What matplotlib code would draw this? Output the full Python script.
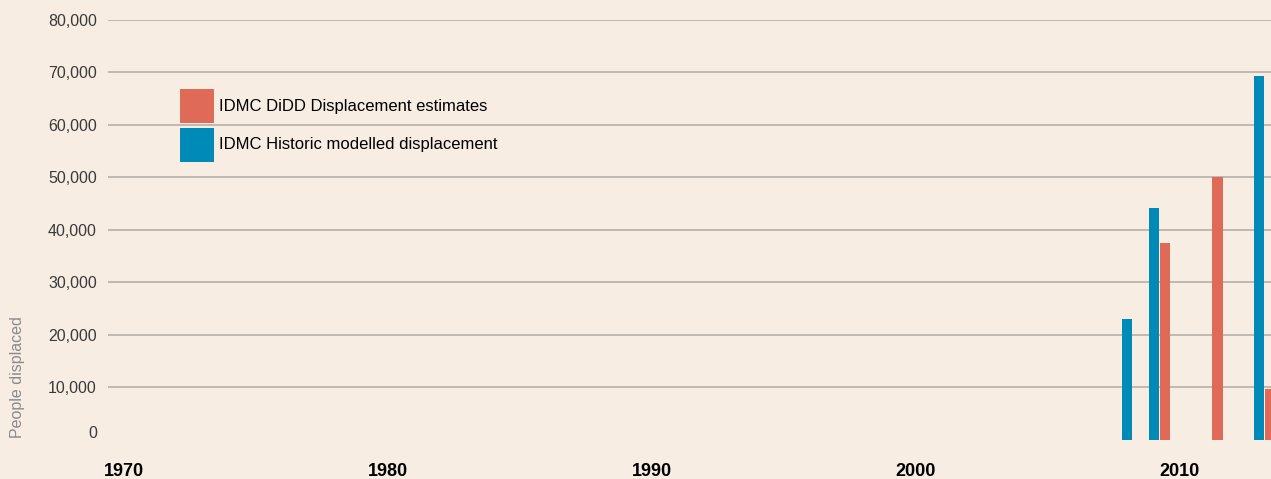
import matplotlib.pyplot as plt
import matplotlib.transforms as mtransforms
from matplotlib.patches import Rectangle

# values
years_historic = [2008, 2009, 2013]
historic = [23000, 44100, 69300]
years_didd = [2009, 2011, 2013]
didd = [37500, 50000, 9600]

yticks = [0, 10000, 20000, 30000, 40000, 50000, 60000, 70000, 80000]
xticks = [1970, 1980, 1990, 2000, 2010]
legend_labels = ['IDMC DiDD Displacement estimates', 'IDMC Historic modelled displacement']

BG = '#F7EDE2'
RED = '#E06A58'
BLUE = '#008AB8'
GRID = '#B5B0AA'
FONT = ['Liberation Sans', 'DejaVu Sans']
W, H = 1271, 479


def main():
    plt.rcParams['font.family'] = FONT
    fig = plt.figure(figsize=(W / 100, H / 100), dpi=100, facecolor=BG)
    ax = fig.add_axes([108 / W, 39.5 / H, 1 - 108 / W, 419.5 / H])
    ax.set_facecolor(BG)

    width = 0.38
    ax.bar(years_historic, historic, width=width, color=BLUE, zorder=3)
    ax.bar([y + 0.42 for y in years_didd], didd, width=width, color=RED, zorder=3)

    # gridlines, none at zero
    for v in yticks[1:]:
        ax.axhline(v, color=GRID, lw=1.2, zorder=1)

    ax.set_xlim(1969.394, 2013.447)
    ax.set_ylim(0, 80000)

    ax.set_yticks(yticks)
    ax.set_yticklabels(['{:,}'.format(v) for v in yticks], fontsize=11.5, color='#3a3a3a')
    ax.set_xticks(xticks)
    ax.set_xticklabels([str(x) for x in xticks], fontsize=13, fontweight='bold', color='black')
    ax.tick_params(axis='y', length=0, pad=8)
    ax.tick_params(axis='x', length=0, pad=17)
    # the zero label sits a bit above the baseline
    ylabs = ax.get_yticklabels()
    ylabs[0].set_transform(ylabs[0].get_transform() +
                           mtransforms.ScaledTranslation(0, 7 / 100, fig.dpi_scale_trans))

    for s in ax.spines.values():
        s.set_visible(False)

    fig.text(18 / W, 41 / H, 'People displaced', rotation=90, ha='center', va='bottom',
             fontsize=11.5, color='#8a8a8a')

    # legend: square swatches with labels
    for i, (lab, col) in enumerate(zip(legend_labels, [RED, BLUE])):
        top = 89 + i * 39
        fig.patches.append(Rectangle((180 / W, 1 - (top + 34) / H), 34 / W, 34 / H,
                                     transform=fig.transFigure, facecolor=col,
                                     edgecolor='none', zorder=5))
        fig.text(219 / W, 1 - (top + 17) / H, lab, ha='left', va='center',
                 fontsize=12, color='black', zorder=6)

    fig.savefig('out.png', dpi=100, facecolor=BG)


if __name__ == '__main__':
    main()
